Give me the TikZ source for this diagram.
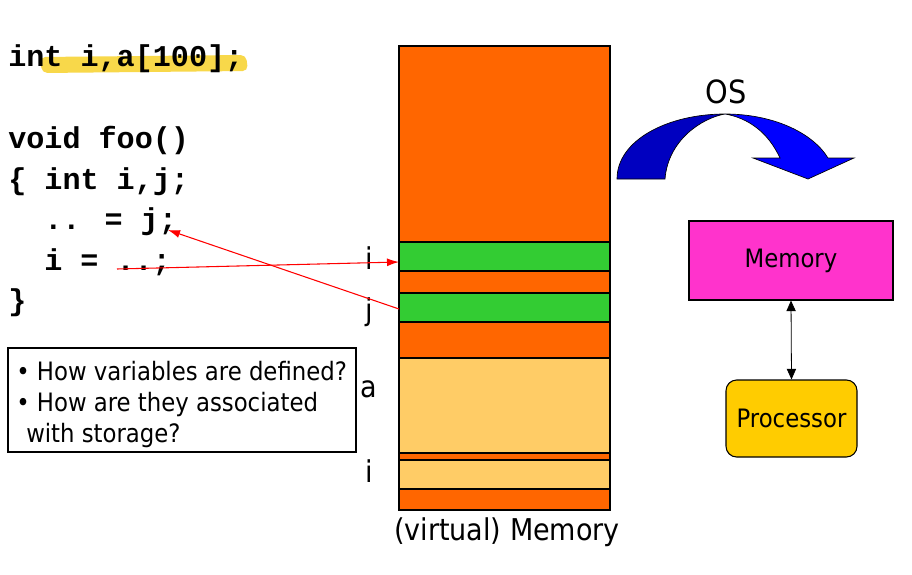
\documentclass[tikz,border=0pt]{standalone}
\usepackage{fontspec}
\setmainfont{DejaVu Sans Condensed}
\newfontfamily\codefont{Liberation Mono}
\usetikzlibrary{arrows.meta}
\definecolor{memorange}{HTML}{FF6600}
\definecolor{memgreen}{HTML}{33CC33}
\definecolor{memlight}{HTML}{FFCC66}
\definecolor{magentabox}{HTML}{FF33CC}
\definecolor{procyellow}{HTML}{FFCC00}
\definecolor{hilite}{HTML}{F8D84A}
\definecolor{darkblue}{HTML}{0000C0}
\definecolor{brightblue}{HTML}{0000FF}
\tikzset{
  band/.style={draw=black, line width=0.8pt},
  code/.style={font=\codefont\bfseries\fontsize{22.6}{26}\selectfont, anchor=base west, inner sep=0pt},
  lbl/.style={font=\fontsize{19}{22}\selectfont, inner sep=0pt},
  biglbl/.style={font=\fontsize{22.5}{26}\selectfont, inner sep=0pt},
  redarrow/.style={draw=red, line width=0.8pt, -{Latex[length=9pt,width=6pt]}},
}
\begin{document}
\begin{tikzpicture}[x=0.75pt,y=-0.75pt]
\useasboundingbox (0,0) rectangle (912,574);
\fill[white] (0,0) rectangle (912,574);
% highlight
\fill[hilite, rounded corners=4pt] (40,57) -- (246,55) -- (248,71) -- (42,73) -- cycle;
% code
\node[code] (c1) at (8,67) {int i,a[100];};
\node[code] (c2) at (8,148) {void foo()};
\node[code] (c3) at (8,189) {\{ int i,j;};
\node[code] (c4) at (44,229) {.. = j;};
\node[code] (c5) at (44,270) {i = ..;};
\node[code] (c6) at (8,310) {\}};
% memory column
\filldraw[band, fill=memorange] (399,46) rectangle (610,242);
\filldraw[band, fill=memgreen] (399,242) rectangle (610,271);
\filldraw[band, fill=memorange] (399,271) rectangle (610,293);
\filldraw[band, fill=memgreen] (399,293) rectangle (610,322);
\filldraw[band, fill=memorange] (399,322) rectangle (610,358);
\filldraw[band, fill=memlight] (399,358) rectangle (610,453);
\filldraw[band, fill=memorange] (399,453) rectangle (610,460);
\filldraw[band, fill=memlight] (399,460) rectangle (610,489);
\filldraw[band, fill=memorange] (399,489) rectangle (610,510);
\node[biglbl, anchor=base] (vm) at (507,540) {(virtual) Memory};
% labels
\node[biglbl, anchor=base] (li) at (369,269) {i};
\node[biglbl, anchor=base] (lj) at (369,320) {j};
\node[biglbl, anchor=base] (la) at (369,397) {a};
\node[biglbl, anchor=base] (li2) at (369,482) {i};
% red arrows
\coordinate (s1) at (117,269);
\coordinate (e1) at (399,262);
\coordinate (s2) at (399,309);
\coordinate (e2) at (168,230);
\draw[redarrow] (s1) -- (e1);
\draw[redarrow] (s2) -- (e2);
% question box
\draw[line width=0.8pt] (8,348) rectangle (356,452);
\node[lbl, anchor=base west] (q1) at (16,380) {\textbullet\ How variables are defined?};
\node[lbl, anchor=base west] (q2) at (16,411) {\textbullet\ How are they associated};
\node[lbl, anchor=base west] (q3) at (26,442) {with storage?};
% OS arrow
\filldraw[fill=darkblue, draw=black, line width=0.5pt]
  (617,179) .. controls (617,140) and (668,114) .. (725,114)
  .. controls (702,118) and (668,140) .. (665,179) -- cycle;
\filldraw[fill=brightblue, draw=black, line width=0.5pt]
  (725,114) .. controls (772,114) and (812,132) .. (828,158)
  -- (854,158) -- (808,179) -- (753,158) -- (780,158)
  .. controls (768,132) and (748,118) .. (725,114) -- cycle;
\node[font=\fontsize{24}{28}\selectfont, inner sep=0pt, anchor=base] (os) at (726,104) {OS};
% Memory / Processor
\node[draw=black, line width=0.8pt, fill=magentabox, minimum width=204pt*0.75, minimum height=79pt*0.75, lbl] (mem) at (791,260.5) {Memory};
\node[draw=black, line width=0.8pt, fill=procyellow, rounded corners=8pt, minimum width=131pt*0.75, minimum height=77pt*0.75, lbl] (proc) at (791.5,418.5) {Processor};
\draw[line width=0.6pt, {Triangle[length=8pt,width=7pt]}-{Triangle[length=8pt,width=7pt]}] (mem.south) -- (proc.north);
\end{tikzpicture}
\end{document}
